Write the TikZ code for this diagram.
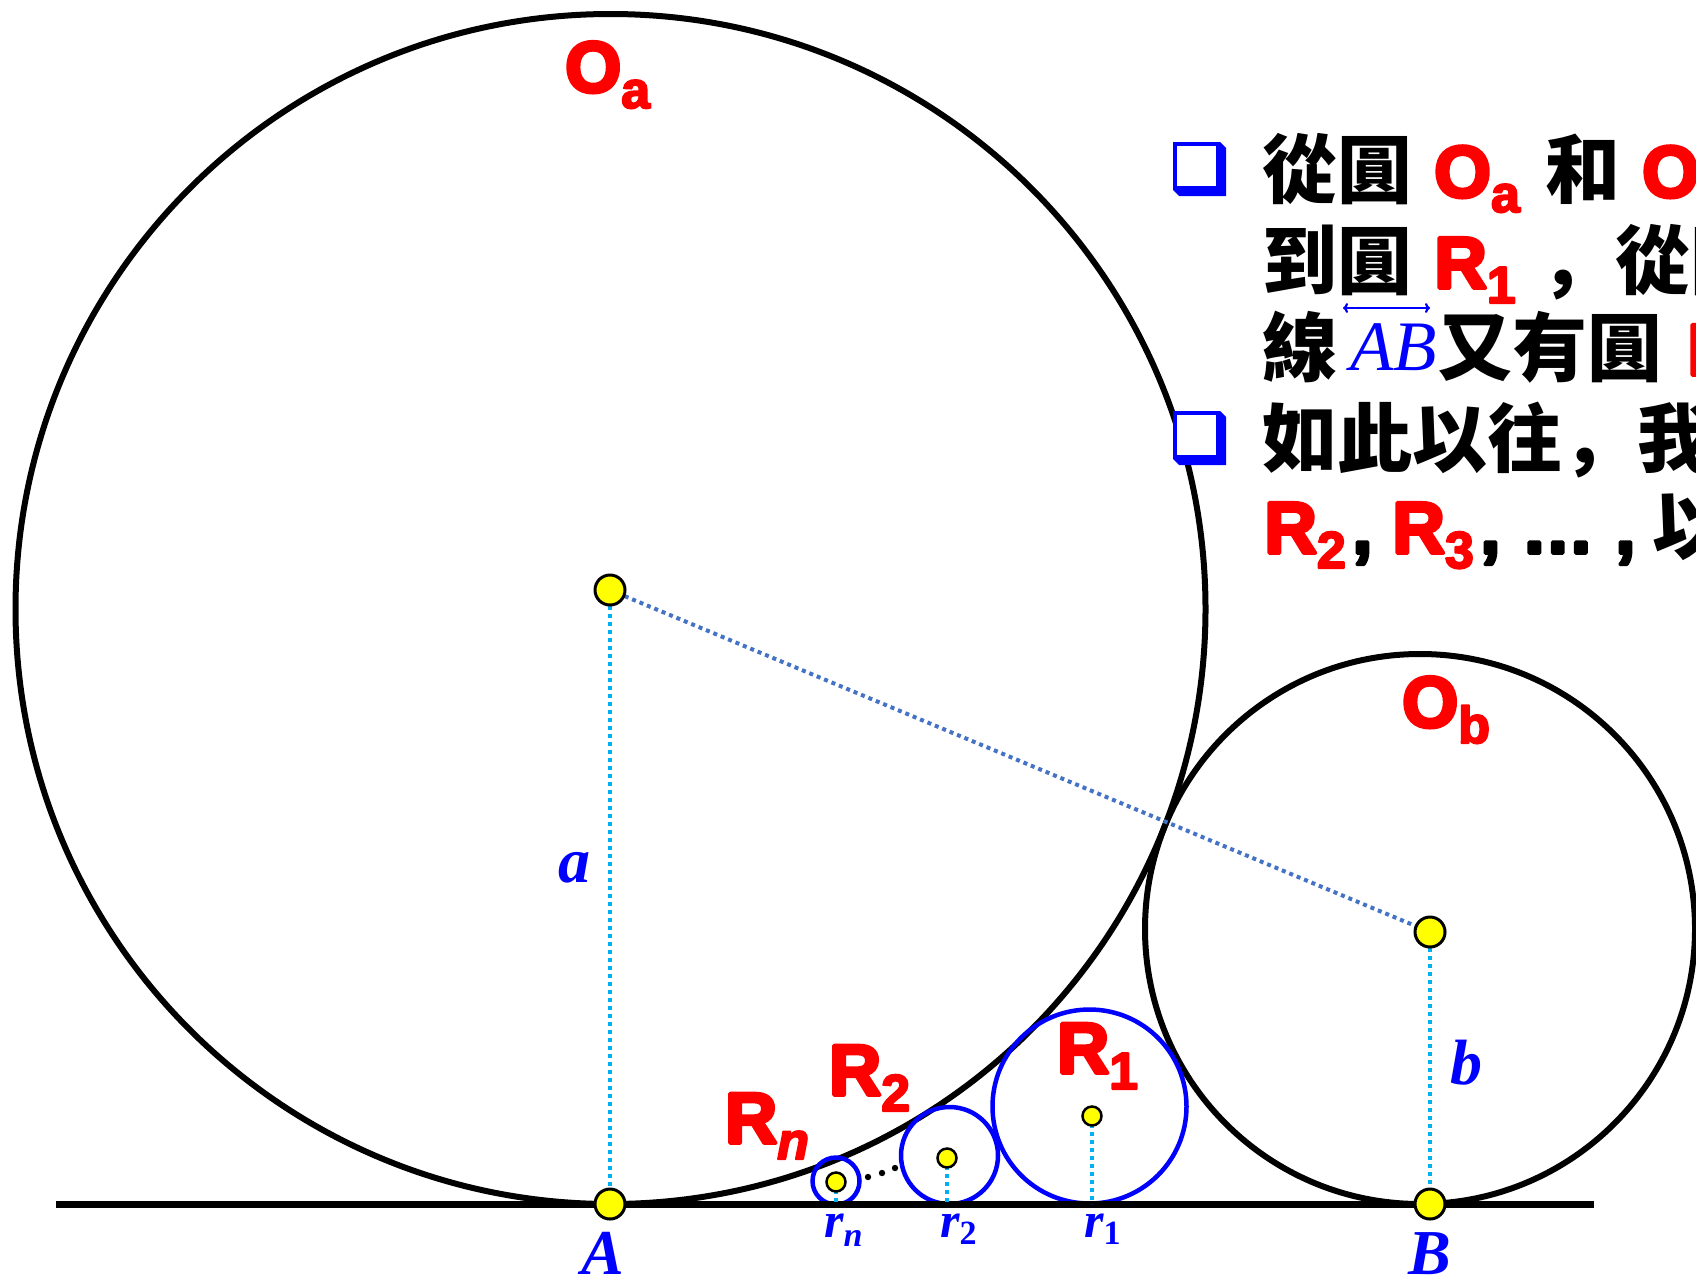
\documentclass[tikz,border=0pt]{standalone}
\usepackage{fontspec}
\usetikzlibrary{arrows.meta}
\newfontfamily\heavy{Liberation Sans}
\newfontfamily\tnr{Liberation Serif}
\newfontfamily\cjk{Noto Sans CJK TC}
\newfontfamily\cjksc{Noto Sans CJK SC}
\definecolor{myred}{RGB}{255,0,0}
\definecolor{myblue}{RGB}{0,0,255}
\definecolor{ltblue}{RGB}{0,176,240}
\definecolor{midblue}{RGB}{68,114,196}
\definecolor{myyellow}{RGB}{255,255,0}
\newcommand\dsub[1]{\raisebox{-16pt}{\special{pdf:literal direct 2 w}\fontsize{52}{52}\selectfont #1}}
\newcommand\tsub[1]{\raisebox{-15pt}{\special{pdf:literal direct 2 w}\fontsize{52}{52}\selectfont #1}}
\newcommand\rsub[2]{\raisebox{-#1pt}{\fontsize{34}{34}\selectfont #2}}
\begin{document}
\begin{tikzpicture}[x=1pt,y=-1pt,
  thk/.style={execute at begin node={\special{pdf:literal direct 2 Tr 3.6 w 1 j}},
              execute at end node={\special{pdf:literal direct 0 Tr}}},
  bigc/.style={draw=black, line width=6pt},
  smallc/.style={draw=myblue, line width=4.5pt},
  mk/.style={circle, fill=myyellow, draw=black, line width=3pt, minimum size=30pt, inner sep=0pt},
  smk/.style={circle, fill=myyellow, draw=black, line width=2.5pt, minimum size=19pt, inner sep=0pt},
  vdot/.style={draw=ltblue, line width=4pt, dash pattern=on 4pt off 4pt},
  ldot/.style={draw=midblue, line width=4pt, dash pattern=on 4pt off 4pt},
  dlab/.style={thk, anchor=base west, inner sep=0pt, text=myred, font=\heavy\bfseries\fontsize{72}{72}\selectfont},
  mlab/.style={anchor=base, inner sep=0pt, text=myblue, font=\tnr\bfseries\itshape\fontsize{64}{64}\selectfont},
  rlab/.style={anchor=base west, inner sep=0pt, text=myblue, font=\tnr\bfseries\itshape\fontsize{50}{50}\selectfont},
  ktxt/.style={anchor=base west, inner sep=0pt, text=black, font=\cjk\bfseries\fontsize{75}{75}\selectfont},
  rtxt/.style={thk, anchor=base west, inner sep=0pt, text=myred, font=\heavy\bfseries\fontsize{73}{73}\selectfont},
  ptxt/.style={thk, anchor=base west, inner sep=0pt, text=black, font=\heavy\bfseries\fontsize{73}{73}\selectfont},
  bul/.style={fill=myblue}
]
\useasboundingbox (0,0) rectangle (1696,1283);
\clip (0,0) rectangle (1696,1283);
\fill[white] (0,0) rectangle (1696,1283);

% big circles
\draw[bigc] (610.5,609) circle[radius=595pt];
\draw[bigc] (1420,929) circle[radius=275pt];
% small circles
\draw[smallc] (1089.5,1106.5) circle[radius=97pt];
\draw[smallc] (949.5,1155.5) circle[radius=48.5pt];
\draw[smallc] (836,1181) circle[radius=23.5pt];

% ground line
\coordinate (gl) at (56,1204);
\coordinate (gr) at (1594,1204);
\draw[line width=7pt] (gl) -- (gr);

% marker positions
\coordinate (Oa) at (610,590);
\coordinate (A) at (610,1204);
\coordinate (Ob) at (1430,932);
\coordinate (B) at (1430,1204);
\coordinate (M1) at (1092,1116);
\coordinate (M2) at (947,1158);
\coordinate (Mn) at (836,1182);
\coordinate (G1) at (1092,1204);
\coordinate (G2) at (947,1204);
\coordinate (Gn) at (836,1204);

% dotted connectors
\draw[vdot] (Oa) -- (A);
\draw[vdot] (Ob) -- (B);
\draw[ldot] (Oa) -- (Ob);
\draw[vdot] (M1) -- (G1);
\draw[vdot] (M2) -- (G2);
\draw[vdot] (Mn) -- (Gn);
% markers on top
\node[mk] (nOa) at (Oa) {};
\node[mk] (nA) at (A) {};
\node[mk] (nOb) at (Ob) {};
\node[mk] (nB) at (B) {};
\node[smk] (nM1) at (M1) {};
\node[smk] (nM2) at (M2) {};
\node[smk] (nMn) at (Mn) {};

% dots between Rn and R2
\coordinate (d1) at (868,1177);
\coordinate (d2) at (882,1173);
\coordinate (d3) at (895,1168);
\fill (d1) circle[radius=3.2pt];
\fill (d2) circle[radius=3.2pt];
\fill (d3) circle[radius=3.2pt];

% diagram labels
\node[dlab] (LOa) at (565,92) {O\dsub{a}};
\node[dlab] (LOb) at (1402,727) {O\dsub{b}};
\node[dlab] (LR1) at (1057,1073) {R\dsub{1}};
\node[dlab] (LR2) at (829,1095) {R\dsub{2}};
\node[dlab] (LRn) at (725,1143) {R\dsub{\itshape n}};
\node[mlab] (La) at (574,882) {a};
\node[mlab] (Lb) at (1466,1084) {b};
\node[mlab] (LA) at (603,1274) {A};
\node[mlab] (LB) at (1430,1274) {B};
\node[rlab] (Lrn) at (824,1237) {r\rsub{9}{n}};
\node[rlab] (Lr2) at (940,1237) {r\rsub{7}{\upshape 2}};
\node[rlab] (Lr1) at (1084,1237) {r\rsub{7}{\upshape 1}};

% bullets
\fill[bul] (1173,142) -- (1220,142) -- (1226,148) -- (1226,196) -- (1179,196) -- (1173,190) -- cycle;
\fill[white] (1176.5,145.5) rectangle (1215.5,185.5);
\fill[bul] (1173,411) -- (1220,411) -- (1226,417) -- (1226,465) -- (1179,465) -- (1173,459) -- cycle;
\fill[white] (1176.5,414.5) rectangle (1215.5,454.5);

% text line 1
\node[ktxt] (t1a) at (1262,197) {從圓};
\node[rtxt] (t1b) at (1434,197) {O\tsub{a}};
\node[ktxt] (t1c) at (1545,197) {和};
\node[rtxt] (t1d) at (1642,197) {O\tsub{b}};
% line 2
\node[ktxt] (t2a) at (1262,288) {到圓};
\node[rtxt] (t2b) at (1434,288) {R\tsub{1}};
\node[ktxt] (t2c) at (1540,288) {{\cjksc ，}從圓};
% line 3
\node[ktxt] (t3a) at (1262,375) {線};
\node[anchor=base west, inner sep=0pt, text=myblue, font=\tnr\itshape\fontsize{71}{71}\selectfont] (AB) at (1350,370) {AB};
\coordinate (abL) at (1343,308);
\coordinate (abR) at (1430,308);
\draw[myblue, line width=2.2pt, {To[length=5pt,width=10pt]}-{To[length=5pt,width=10pt]}] (abL) -- (abR);
\node[ktxt] (t3b) at (1437,375) {又有圓};
\node[rtxt] (t3c) at (1687,375) {R};
% line 4
\node[ktxt] (t4) at (1262,466) {如此以往{\cjksc ，}我};
% line 5
\node[rtxt] (t5a) at (1264,553) {R\tsub{2}};
\node[ptxt] (t5b) at (1352,553) {,};
\node[rtxt] (t5c) at (1392,553) {R\tsub{3}};
\node[ptxt] (t5d) at (1480,553) {,};
\node[ptxt] (t5e) at (1521,553) {…};
\node[ptxt] (t5f) at (1615,553) {,};
\node[ktxt] (t5g) at (1652,553) {以};
\end{tikzpicture}
\end{document}
